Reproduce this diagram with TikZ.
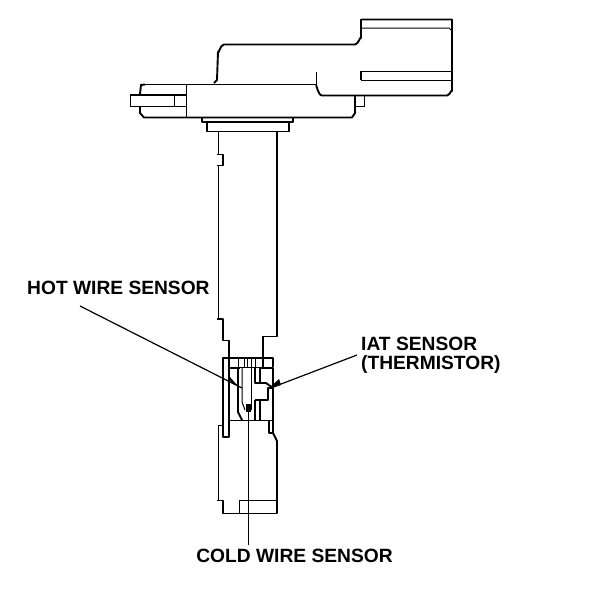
\documentclass[tikz,border=0pt]{standalone}
\usepackage{fontspec}
\setmainfont{Liberation Sans}
\usetikzlibrary{positioning}
\tikzstyle{heavy} = [line width=1.9pt, line join=round]
\tikzstyle{light} = [line width=1pt]
\tikzstyle{sensorlabel} = [font=\bfseries\fontsize{19.2pt}{18.5pt}\selectfont, align=left, inner sep=0pt]
\tikzstyle{leader} = [line width=1.2pt]
\tikzstyle{tip} = [line width=0.1pt, fill=black]

\begin{document}
\begin{tikzpicture}[x=1pt, y=-1pt]
	\useasboundingbox (0,0) rectangle (608,590);
	% connector housing
	\draw[heavy] (214,83) -- (217,80) -- (218,52) to[out=-90,in=180] (224,44.5) -- (355,44.5) to[out=0,in=90] (361,38) -- (361,19.5) -- (452,19.5) -- (452,91) to[out=90,in=0] (447,95.5) -- (322,95.5) to[out=180,in=90] (316,86);
	\draw[light] (362,28) -- (449,28) -- (451,30);
	\draw[heavy] (361,71) -- (361,80);
	\draw[light] (361,71) -- (452,71) (361,80) -- (452,80);
	\draw[light] (316,72) -- (316,86);
	\draw[light] (140,84.5) -- (316,84.5);
	% left pins
	\draw[heavy] (145,84.5) -- (141,85) -- (140,94);
	\draw[heavy] (130,95) -- (186,95);
	\draw[heavy] (130,106.5) -- (186,106.5);
	\draw[light] (130,95) -- (130,106.5);
	\draw[light] (174,95) -- (174,106.5);
	\draw[light] (186,84.5) -- (186,117);
	\draw[heavy] (140,107) -- (140,113) -- (144,117.5) -- (352,117.5) -- (355,113) -- (355,95);
	% right tab
	\draw[heavy] (355,106.5) -- (365,106.5);
	\draw[light] (364,95) -- (364,106.5);
	% flange
	\draw[heavy] (202,118) -- (202,122) -- (293,122) -- (293,118);
	\draw[heavy] (207,122) -- (207,131.5) -- (289,131.5) -- (289,122);
	% stem
	\draw[light] (218,132) -- (218,154);
	\draw[heavy] (217,154.5) -- (223,154.5) -- (223,165.5) -- (217,165.5);
	\draw[light] (218,165.5) -- (218,319);
	\draw[heavy] (217,319) -- (223,319) -- (223,340.5) -- (229,340.5) -- (229,368);
	\draw[heavy] (277,132) -- (277,336.5) -- (263,336.5) -- (263,368);
	% sensing window
	\draw[heavy] (273,367) -- (273,358) -- (223,358) -- (223,437) -- (229,437) -- (229,368) -- (240,368);
	\draw[heavy] (218,425.5) -- (223,425.5);
	\draw[heavy] (260,368) -- (273,368) -- (273,388) -- (268,388) -- (268,400) -- (255,400);
	\draw[light] (229,367) -- (263,367);
	\foreach \gx in {238,244,247,251,255}
		\draw[light] (\gx,358) -- (\gx,367);
	\draw[heavy] (238,367) -- (238,412) -- (242,420);
	\draw[light] (242,367) -- (242,402) -- (245,410);
	\draw[light] (251,367) -- (251,410);
	\draw[heavy] (255,367) -- (255,383) -- (266,383) -- (273,388);
	\draw[heavy] (255,400) -- (255,420);
	\draw[heavy] (260,367) -- (260,383);
	\draw[heavy] (260,400) -- (260,420);
	\draw[light] (230,420) -- (273,420);
	% lower body
	\draw[heavy] (273,388) -- (273,433) -- (277,441) -- (277,513.5);
	\draw[heavy] (269,420) -- (269,433) -- (273,433);
	\draw[light] (218,425.5) -- (218,500);
	\draw[heavy] (217,500.5) -- (223,500.5) -- (223,513.5) -- (277,513.5);
	\draw[heavy] (239,500.5) -- (277,500.5);
	\draw[light] (239,500.5) -- (239,514);
	% labels
	\node[sensorlabel, anchor=west] (hotwire) at (27,288) {HOT WIRE SENSOR};
	\node[sensorlabel, anchor=west] (iat) at (361,355.5) {IAT SENSOR\\(THERMISTOR)};
	\node[sensorlabel, anchor=center] (coldwire) at (294.5,556) {COLD WIRE SENSOR};
	% leaders
	\coordinate (hottip) at (242,388);
	\coordinate (iattip) at (268,389);
	\coordinate (coldtip) at (248.5,407);
	\coordinate (hotend) at (80,306);
	\coordinate (iatend) at (357,355);
	\coordinate (coldend) at (248.5,545);
	\draw[leader] (hotend) -- (hottip);
	\draw[leader] (iatend) -- (iattip);
	\draw[leader] (coldend) -- (coldtip);
	\fill[tip] (238,386) -- (229,376) -- (231,383) -- cycle;
	\fill[tip] (iattip) -- (279,379) -- (281,385) -- cycle;
	\fill[tip] (245.5,404) rectangle (251,412);
\end{tikzpicture}
\end{document}
